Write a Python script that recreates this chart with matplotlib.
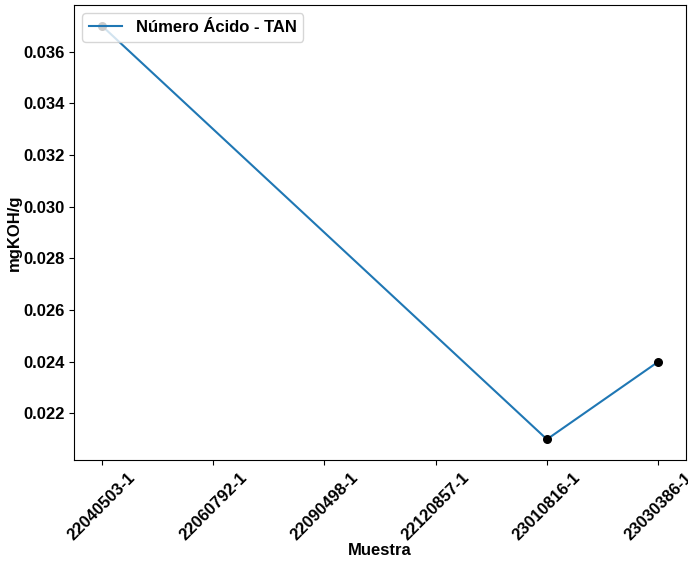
import matplotlib
matplotlib.use('Agg')
import matplotlib.pyplot as plt

# muestras del historial y valores TAN medidos (solo algunas tienen dato)
MUESTRAS = ['22040503-1', '22060792-1', '22090498-1', '22120857-1',
            '23010816-1', '23030386-1']
IDX_MEDIDAS = [0, 4, 5]
TAN = [0.037, 0.021, 0.024]

plt.rcParams['font.family'] = ['Liberation Sans', 'DejaVu Sans']
plt.rcParams['font.weight'] = 'bold'

fig = plt.figure(figsize=(6.88, 5.64), dpi=100)
ax = fig.add_axes([0.1076, 0.1844, 0.8895, 0.8066])

ax.plot(IDX_MEDIDAS, TAN, color='#1f77b4', lw=1.5, label='Número Ácido - TAN')
ax.scatter(IDX_MEDIDAS, TAN, color='black', s=30, zorder=3)

ax.set_xticks(range(len(MUESTRAS)))
ax.set_xticklabels(MUESTRAS, rotation=45, fontsize=12, fontweight='bold')
ax.set_xlim(-0.25, len(MUESTRAS) - 0.75)
ax.tick_params(axis='y', labelsize=12)

ax.set_xlabel('Muestra', fontsize=12, fontweight='bold', labelpad=0)
ax.set_ylabel('mgKOH/g', fontsize=12, fontweight='bold', labelpad=1)
ax.legend(loc='upper left', prop={'weight': 'bold', 'size': 12})

fig.savefig('out.png', dpi=100)
